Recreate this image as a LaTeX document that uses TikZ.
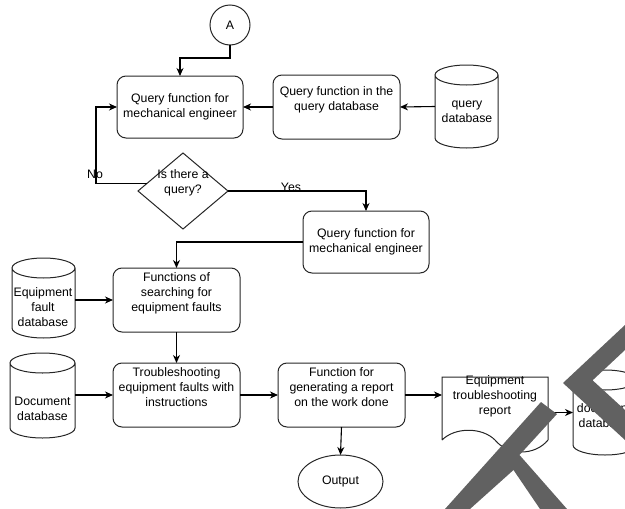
\documentclass[tikz,border=0pt]{standalone}
\usepackage{fontspec}
\setmainfont{Liberation Sans}
\usetikzlibrary{shapes.geometric,arrows.meta,calc}
\newcommand\cylout[2]{\draw[shp] ([yshift=-10pt]#1.north west) -- ([yshift=10pt]#1.south west) arc[start angle=180,end angle=360,x radius=#2,y radius=10pt] -- ([yshift=-10pt]#1.north east) arc[start angle=0,end angle=180,x radius=#2,y radius=10pt] arc[start angle=180,end angle=360,x radius=#2,y radius=10pt];}
\begin{document}
\begin{tikzpicture}[x=1pt,y=-1pt,
  font=\fontsize{12.3}{15}\selectfont,
  shp/.style={draw=black!85,line width=1pt},
  box/.style={shp,rounded corners=9pt,minimum width=127pt,minimum height=64pt,inner sep=0pt,outer sep=0pt,align=center},
  txt/.style={align=center,inner sep=0pt},
  cyl/.style={inner sep=0pt,outer sep=0pt},
  arr/.style={draw=black,line width=1.1pt,-{Stealth[length=8pt,width=7pt,inset=2.5pt]}},
  wm/.style={fill=black!62,draw=none}]
\useasboundingbox (0,0) rectangle (625,509);
% nodes
\node[shp,circle,minimum size=40pt,inner sep=0pt,outer sep=0pt] (A) at (230,25) {A};
\node[box,minimum width=126pt,minimum height=62pt] (b1) at (180,107) {Query function for\\mechanical engineer};
\node[box] (b2) at (336.5,107) {};
\node[txt] (b2t) at (336.5,100) {Query function in the\\query database};
\node[cyl,minimum width=63pt,minimum height=83pt] (qdb) at (466.5,106.5) {};
\node[txt] (qdbt) at (467,112) {query\\database};
\node[shp,diamond,minimum width=90pt,minimum height=76pt,inner sep=0pt,outer sep=0pt] (dia) at (183,191) {};
\node[txt] (diat) at (183,183) {Is there a\\query?};
\node[box,minimum width=126pt,minimum height=62pt] (b3) at (366,242) {Query function for\\mechanical engineer};
\node[cyl,minimum width=63pt,minimum height=80pt] (efdb) at (43.5,298) {};
\node[txt] (efdbt) at (43,307) {Equipment\\fault\\database};
\node[box] (b4) at (176.5,300) {};
\node[txt] (b4t) at (176.5,293) {Functions of\\searching for\\equipment faults};
\node[cyl,minimum width=65pt,minimum height=85pt] (ddb) at (42.5,395.5) {};
\node[txt] (ddbt) at (42.5,408.5) {Document\\database};
\node[box] (b5) at (176.5,395) {};
\node[txt] (b5t) at (176.5,387) {Troubleshooting\\equipment faults with\\instructions};
\node[box] (b6) at (341.5,395) {};
\node[txt] (b6t) at (341.5,387) {Function for\\generating a report\\on the work done};
\node[shp,ellipse,minimum width=85pt,minimum height=53pt,inner sep=0pt,outer sep=0pt] (out) at (340.5,481.5) {Output};
\node[cyl,minimum width=106pt,minimum height=63pt] (doc) at (495,408.5) {};
\node[cyl,minimum width=64pt,minimum height=85pt] (ddb2) at (605,412.5) {};
% shapes
\cylout{qdb}{31.5pt}
\cylout{efdb}{31.5pt}
\cylout{ddb}{32.5pt}
\cylout{ddb2}{32pt}
\draw[shp] (doc.south west) -- (doc.north west) -- (doc.north east) -- (doc.south east)
  .. controls ([shift={(-13pt,-16pt)}]doc.south east) and ([shift={(13pt,-16pt)}]doc.south) .. (doc.south)
  .. controls ([shift={(-13pt,13pt)}]doc.south) and ([shift={(13pt,13pt)}]doc.south west) .. (doc.south west);
\node[txt] (doct) at (495,396) {Equipment\\troubleshooting\\report};
\node[txt] (ddb2t) at (604,416) {document\\database};
% connectors
\coordinate (ja) at (230,58);
\draw[arr] (A.south) -- (ja) -| (b1.north);
\draw[arr] (b2.west) -- (b1.east);
\draw[arr] (qdb.west) -- (b2.east);
\coordinate (ns) at ($(dia.west)!0.2!(dia.north)$);
\coordinate (nx) at (96,0);
\draw[arr] (ns) -- (ns -| nx) |- (b1.west);
\node[txt] (no) at (95,174.5) {No};
\draw[arr] (dia.east) -| (b3.north);
\node[txt] (yes) at (291,187.5) {Yes};
\draw[arr] (b3.west) -| (b4.north);
\draw[arr] (efdb.east |- b4.west) -- (b4.west);
\draw[arr] (b4.south) -- (b5.north);
\draw[arr] (ddb.east |- b5.west) -- (b5.west);
\draw[arr] (b5.east) -- (b6.west);
\draw[arr] (b6.south) -- (out.north);
\draw[arr] (b6.east) -- (b6.east -| doc.west);
\draw[arr] (doc.east |- ddb2.west) -- (ddb2.west);
% overlay marks
\fill[wm] (625,325) -- (563,383) -- (625,440) -- (625,410) -- (592.6,380.3) -- (625,350) -- cycle;
\fill[wm] (541,402) -- (557,414) -- (519.5,455) -- (567,509) -- (540,509) -- (513.5,470) -- (470,509) -- (445,509) -- cycle;
\end{tikzpicture}
\end{document}
